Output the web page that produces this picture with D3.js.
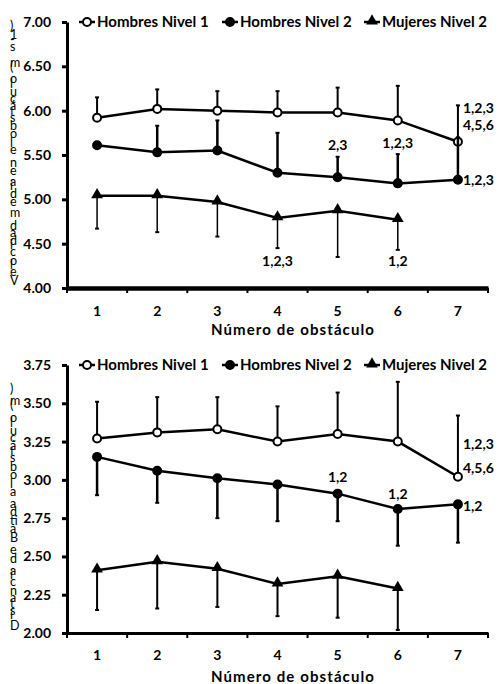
<!DOCTYPE html>
<html>
<head>
<meta charset="utf-8">
<script src="https://cdn.jsdelivr.net/npm/d3@7"></script>
<style>
  body { margin: 0; background: #fff; }
  svg { display: block; }
</style>
</head>
<body>
<svg id="chart"></svg>
<script>
// Shared categories and series
const categories = [1, 2, 3, 4, 5, 6, 7]
const seriesNames = ["Hombres Nivel 1", "Hombres Nivel 2", "Mujeres Nivel 2"]
const xTitle = "Número de obstáculo"

// Panel 1: velocidad media
const velTitle = "Velocidad media en el obstáculo (m s-1)"
const velTicks = [4.00, 4.50, 5.00, 5.50, 6.00, 6.50, 7.00]
const velH1 = [5.92, 6.02, 6.00, 5.98, 5.98, 5.89, 5.65]
const velH1Sd = [0.23, 0.22, 0.22, 0.24, 0.28, 0.39, 0.41]
const velH2 = [5.61, 5.53, 5.55, 5.30, 5.25, 5.18, 5.22]
const velH2Sd = [0, 0.30, 0.34, 0.45, 0.23, 0.33, 0.48]
const velM2 = [5.04, 5.04, 4.97, 4.79, 4.87, 4.77, null]
const velM2Sd = [0.37, 0.41, 0.39, 0.34, 0.52, 0.34, null]
const velNotes = [
  { cat: 7, value: 6.03, text: "1,2,3", side: "right" },
  { cat: 7, value: 5.84, text: "4,5,6", side: "right" },
  { cat: 5, value: 5.61, text: "2,3", side: "center" },
  { cat: 6, value: 5.64, text: "1,2,3", side: "center" },
  { cat: 7, value: 5.22, text: "1,2,3", side: "right" },
  { cat: 4, value: 4.30, text: "1,2,3", side: "center" },
  { cat: 6, value: 4.30, text: "1,2", side: "center" }
]

// Panel 2: distancia de batida
const distTitle = "Distancia de Batida al obstáculo (m)"
const distTicks = [2.00, 2.25, 2.50, 2.75, 3.00, 3.25, 3.50, 3.75]
const distH1 = [3.27, 3.31, 3.33, 3.25, 3.30, 3.25, 3.02]
const distH1Sd = [0.24, 0.23, 0.21, 0.23, 0.27, 0.39, 0.40]
const distH2 = [3.15, 3.06, 3.01, 2.97, 2.91, 2.81, 2.84]
const distH2Sd = [0.25, 0.21, 0.26, 0.24, 0.18, 0.24, 0.25]
const distM2 = [2.41, 2.465, 2.42, 2.32, 2.37, 2.29, null]
const distM2Sd = [0.26, 0.305, 0.25, 0.21, 0.27, 0.27, null]
const distNotes = [
  { cat: 7, value: 3.235, text: "1,2,3", side: "right" },
  { cat: 7, value: 3.08, text: "4,5,6", side: "right" },
  { cat: 5, value: 3.02, text: "1,2", side: "center" },
  { cat: 6, value: 2.91, text: "1,2", side: "center" },
  { cat: 7, value: 2.83, text: "1,2", side: "right" }
]

const width = 502
const height = 684
const font = "Lato, 'Open Sans', sans-serif"

const svg = d3.select("#chart")
  .attr("width", width)
  .attr("height", height)

const markers = ["open", "filled", "triangle"]

const drawMarker = (g, kind) => {
  if (kind === "triangle") {
    g.append("path")
      .attr("d", d3.symbol(d3.symbolTriangle, 60)())
      .attr("transform", "translate(0,-1)")
      .attr("fill", "#000")
  } else {
    g.append("circle")
      .attr("r", 4)
      .attr("fill", kind === "open" ? "#fff" : "#000")
      .attr("stroke", "#000")
      .attr("stroke-width", 2)
  }
}

const drawPanel = (p) => {
  const g = svg.append("g")

  const x = d3.scaleBand()
    .domain(categories)
    .range([67, 488])

  const y = d3.scaleLinear()
    .domain(d3.extent(p.ticks))
    .range([p.bottom, p.top])

  const cx = c => x(c) + x.bandwidth() / 2

  // Y axis
  g.append("g")
    .attr("transform", "translate(67,0)")
    .call(d3.axisLeft(y)
      .tickValues(p.ticks)
      .tickFormat(d3.format(".2f"))
      .tickSize(5)
      .tickSizeOuter(0)
      .tickPadding(11))
    .call(a => a.select(".domain").attr("stroke-width", 3))
    .call(a => a.selectAll(".tick line").attr("stroke-width", 3))
    .call(a => a.selectAll(".tick text")
      .attr("font-family", font)
      .attr("font-weight", "bold")
      .attr("font-size", 14)
      .attr("fill", "#000"))

  // X axis (labels at category centres, ticks between categories)
  g.append("g")
    .attr("transform", `translate(0,${p.bottom})`)
    .call(d3.axisBottom(x).tickSize(0).tickPadding(p.labelPad))
    .call(a => a.select(".domain").attr("stroke-width", p.xAxisWidth))
    .call(a => a.selectAll(".tick text")
      .attr("font-family", font)
      .attr("font-weight", "bold")
      .attr("font-size", 14)
      .attr("fill", "#000"))

  g.append("g")
    .selectAll("line")
    .data(categories.map(c => x(c)).concat([x.range()[1]]))
    .join("line")
    .attr("x1", d => d)
    .attr("x2", d => d)
    .attr("y1", p.bottom)
    .attr("y2", p.bottom + 5)
    .attr("stroke", "#000")
    .attr("stroke-width", 2)

  g.append("text")
    .attr("x", 293)
    .attr("y", p.bottom + p.titlePad)
    .attr("text-anchor", "middle")
    .attr("font-family", font)
    .attr("font-weight", "bold")
    .attr("font-size", 15)
    .attr("letter-spacing", 1.1)
    .text(xTitle)

  // Y title: upright glyphs stacked bottom-to-top
  g.append("text")
    .attr("transform", `translate(10,${p.bottom - 3}) rotate(-90)`)
    .attr("font-family", font)
    .attr("font-size", 12.5)
    .attr("rotate", 90)
    .attr("textLength", p.titleLength)
    .attr("lengthAdjust", "spacing")
    .text(p.yTitle)

  // Series
  p.series.forEach((s, i) => {
    const pts = categories
      .map((c, j) => ({ c, v: s.values[j], sd: s.sd[j] }))
      .filter(d => d.v != null)

    // error bars (one side only)
    const bars = g.append("g")
      .selectAll("g")
      .data(pts.filter(d => d.sd))
      .join("g")
    const end = d => y(d.v + s.dir * d.sd)
    bars.append("line")
      .attr("x1", d => cx(d.c))
      .attr("x2", d => cx(d.c))
      .attr("y1", d => y(d.v))
      .attr("y2", end)
      .attr("stroke", "#000")
      .attr("stroke-width", s.barWidth)
    bars.append("line")
      .attr("x1", d => cx(d.c) - 2)
      .attr("x2", d => cx(d.c) + 2)
      .attr("y1", end)
      .attr("y2", end)
      .attr("stroke", "#000")
      .attr("stroke-width", 2)

    g.append("path")
      .datum(pts)
      .attr("fill", "none")
      .attr("stroke", "#000")
      .attr("stroke-width", 2.5)
      .attr("d", d3.line().x(d => cx(d.c)).y(d => y(d.v)))

    g.append("g")
      .selectAll("g")
      .data(pts)
      .join("g")
      .attr("transform", d => `translate(${cx(d.c)},${y(d.v)})`)
      .each(function () { drawMarker(d3.select(this), markers[i]) })
  })

  // Significance notes
  g.append("g")
    .selectAll("text")
    .data(p.notes)
    .join("text")
    .attr("x", d => d.side === "right" ? cx(d.cat) + 5 : cx(d.cat))
    .attr("y", d => y(d.value))
    .attr("dy", "0.36em")
    .attr("text-anchor", d => d.side === "right" ? "start" : "middle")
    .attr("font-family", font)
    .attr("font-weight", "bold")
    .attr("font-size", 14)
    .text(d => d.text)

  // Legend
  const legendX = [87, 230, 372]
  const leg = g.append("g")
    .selectAll("g")
    .data(seriesNames)
    .join("g")
    .attr("transform", (d, i) => `translate(${legendX[i]},${p.top})`)
  leg.append("line")
    .attr("x1", -8)
    .attr("x2", 8)
    .attr("stroke", "#000")
    .attr("stroke-width", 2.5)
  leg.each(function (d, i) { drawMarker(d3.select(this), markers[i]) })
  leg.append("text")
    .attr("x", 10)
    .attr("dy", "0.36em")
    .attr("font-family", font)
    .attr("font-weight", "bold")
    .attr("font-size", 15)
    .text(d => d)
}

drawPanel({
  top: 22, bottom: 288, ticks: velTicks, yTitle: velTitle,
  titleLength: 258, labelPad: 18, titlePad: 47, xAxisWidth: 4.5,
  notes: velNotes,
  series: [
    { values: velH1, sd: velH1Sd, dir: 1, barWidth: 2 },
    { values: velH2, sd: velH2Sd, dir: 1, barWidth: 2.5 },
    { values: velM2, sd: velM2Sd, dir: -1, barWidth: 1.5 }
  ]
})

drawPanel({
  top: 365, bottom: 633, ticks: distTicks, yTitle: distTitle,
  titleLength: 240, labelPad: 17, titlePad: 49, xAxisWidth: 3,
  notes: distNotes,
  series: [
    { values: distH1, sd: distH1Sd, dir: 1, barWidth: 2 },
    { values: distH2, sd: distH2Sd, dir: -1, barWidth: 2.5 },
    { values: distM2, sd: distM2Sd, dir: -1, barWidth: 2 }
  ]
})
</script>
</body>
</html>
